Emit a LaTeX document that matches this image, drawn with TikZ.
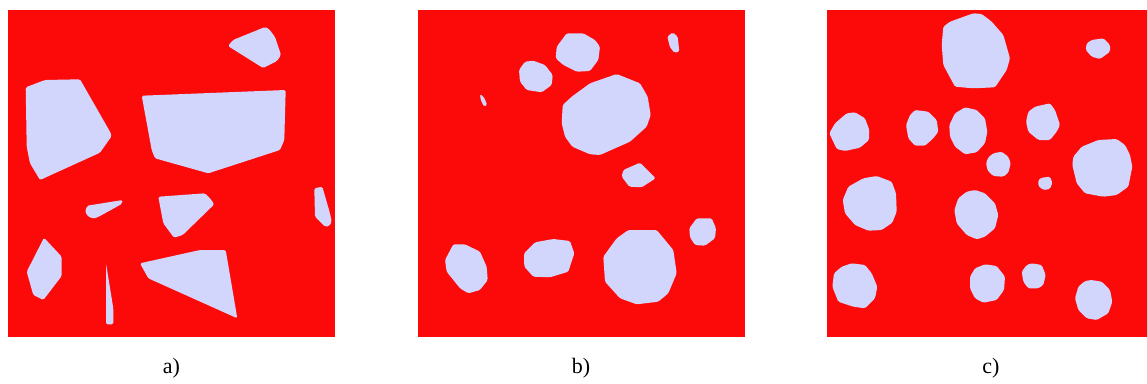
\documentclass[tikz,border=0pt]{standalone}
\usepackage{fontspec}
\setmainfont{Liberation Serif}
\definecolor{bgred}{RGB}{252,10,10}
\definecolor{grain}{RGB}{210,214,252}
\tikzset{
  panel/.style={fill=bgred, draw=none},
  inc/.style={fill=grain, draw=none, line join=round, rounded corners=1.5pt},
  caption/.style={font=\fontsize{22}{26}\selectfont, anchor=base, inner sep=0pt}
}
\begin{document}
\begin{tikzpicture}[x=1pt,y=-1pt]
\useasboundingbox (0,0) rectangle (1147,383);
% panels
\fill[panel] (8,10) rectangle (335,337);
\fill[panel] (418,10) rectangle (745,337);
\fill[panel] (827,10) rectangle (1147,337);
% ---- panel a
\fill[inc] (228,46)--(233,40)--(265,27)--(269,29)--(275,37)--(281,55)--(277,61)--(263,68)--cycle;
\fill[inc] (25.7,87.3)--(45,80)--(80,79.3)--(110,131.7)--(111.7,136)--(100,152.7)--(40,180)--(30,163.3)--(26.7,146.7)--cycle;
\fill[inc] (141.7,95.7)--(285.7,90)--(284.3,140)--(280,150)--(208.3,173.3)--(155,158.3)--(151.7,150)--cycle;
\fill[inc] (87.3,205.7)--(122.7,200)--(121.7,204)--(100,216)--(94,218.7)--(88.3,216.7)--(85,211.7)--cycle;
\fill[inc] (158.3,196.7)--(205,193.3)--(210,198.3)--(214.3,204.3)--(182.7,235)--(174,237.7)--(163.3,223.3)--cycle;
\fill[inc] (314.3,188.3)--(322.3,186.7)--(330,213.3)--(331.7,221.7)--(329.3,226)--(325,226.7)--(315,216.7)--cycle;
\fill[inc] (44,237.7)--(61.7,256.7)--(61.7,276)--(43.3,300)--(33.3,295)--(26.7,271.7)--cycle;
\fill[inc] (106,263.3)--(113.3,308.3)--(113.3,324.3)--(106,324.3)--cycle;
\fill[inc] (140,263.3)--(200,250)--(225.7,250)--(237.3,318.3)--(148.3,278.3)--cycle;
% ---- panel b
\fill[inc] (566.7,33.3)--(583.3,33.3)--(595,40)--(600,46.7)--(598.3,60)--(590,71)--(576.7,71.7)--(563.3,65)--(555.7,58.3)--(556.7,46.7)--cycle;
\fill[inc] (667.3,36.7)--(672.7,32.3)--(677.7,36.7)--(679.3,51.7)--(674.3,52.7)--(670,47.3)--cycle;
\fill[inc] (525,61.7)--(533.3,60.7)--(545,65)--(552.7,75)--(551.7,85)--(541.7,92.3)--(526.7,90)--(520,81.7)--(519,70)--cycle;
\fill[inc] (480,94)--(484,97.3)--(487.3,105)--(484,106.7)--(480.7,100)--cycle;
\fill[inc] (616.7,74)--(640,83.3)--(647.7,96.7)--(650.7,115)--(646.7,126.7)--(630,141.7)--(600,155)--(590,154.3)--(572.3,146.7)--(565,136.7)--(561.7,123.3)--(562.7,105)--(571.7,96.7)--(590,83.3)--cycle;
\fill[inc] (623.3,170)--(640,162.7)--(655.7,178.3)--(641.7,187.3)--(629.3,186.7)--(621.7,176.7)--cycle;
\fill[inc] (696.7,218.3)--(711.7,218.3)--(716,228.3)--(715,238.3)--(705,245.7)--(695,245)--(690,237.3)--(689.3,228.3)--cycle;
\fill[inc] (453.3,244.3)--(465,244.3)--(480,251.7)--(486.7,266.7)--(487.7,280)--(480,290)--(468.3,293.3)--(460,288.3)--(446.7,271.7)--(445,260)--cycle;
\fill[inc] (535,242.3)--(553.3,239)--(570,241)--(574.3,253.3)--(568.3,271.7)--(550,277.3)--(533.3,276.7)--(524.3,266.7)--(524,253.3)--cycle;
\fill[inc] (628.3,230)--(656.7,230)--(673.3,250)--(676.7,273.3)--(668.3,293.3)--(658.3,301.7)--(636.7,304.3)--(620,298.3)--(605,281.7)--(603.3,256.7)--(616.7,238.3)--cycle;
% ---- panel c
\fill[inc] (950,21.7)--(973.3,13.3)--(981.7,14)--(991.7,21.7)--(1003.3,35)--(1010,58.3)--(1006.7,70)--(995,87.3)--(973.3,88.3)--(955,86.7)--(943.3,65)--(941.7,45)--(943.3,26.7)--cycle;
\fill[inc] (1091.7,40)--(1103.3,38.3)--(1110,45)--(1110,51.7)--(1100,59)--(1091.7,56.7)--(1085.7,50)--(1086.7,43.3)--cycle;
\fill[inc] (846.7,113.3)--(855,112.3)--(865,118.3)--(869.3,130)--(869,140)--(860,147.7)--(845,151)--(836.7,149)--(829.3,133.3)--(835,123.3)--cycle;
\fill[inc] (915,110)--(928.3,111.7)--(936.7,120)--(938.3,131.7)--(933.3,138.3)--(925,145.7)--(915,145.7)--(908.3,138.3)--(906,125)--(910,115)--cycle;
\fill[inc] (965,107.3)--(976.7,110)--(985,118.3)--(987.3,131.7)--(985,143.3)--(976.7,152.3)--(965,154.3)--(955,146.7)--(950,136.7)--(949.3,125)--(955,113.3)--cycle;
\fill[inc] (1035,106.7)--(1050,103.3)--(1055,110)--(1060,125)--(1056.7,131.7)--(1050,140)--(1038.3,140)--(1028.3,131.7)--(1026,121.7)--(1028.3,111.7)--cycle;
\fill[inc] (1081.7,146.7)--(1098.3,140)--(1116.7,139)--(1125,145)--(1130,155)--(1132.3,166.7)--(1128.3,186.7)--(1116.7,195)--(1103.3,196.7)--(1085,193.3)--(1076.7,183.3)--(1072.3,165)--(1073.3,156.7)--cycle;
\fill[inc] (993.3,153.3)--(1001.7,151.7)--(1008.3,156.7)--(1010.7,163.3)--(1008.3,172.7)--(1003.3,176.7)--(993.3,176)--(987.7,170.7)--(986,163.3)--(988.3,157.3)--cycle;
\fill[inc] (1041.7,177.7)--(1050,176.7)--(1052.3,182.7)--(1050,189)--(1043.3,190)--(1038.3,186)--(1038.3,180)--cycle;
\fill[inc] (863.3,178.3)--(876.7,176)--(891.7,181.7)--(896,193.3)--(896.7,211.7)--(892.3,222.7)--(881.7,230)--(868.3,230.7)--(855,225)--(845,213.3)--(842.7,200)--(848.3,186.7)--cycle;
\fill[inc] (975,190)--(985,193.3)--(995,203.3)--(998.3,215)--(995,228.3)--(985,236.7)--(976.7,239.3)--(966.7,235)--(956.7,223.3)--(954.3,210)--(958.3,198.3)--(966.7,191.7)--cycle;
\fill[inc] (851.7,263.3)--(865,265)--(871.7,273.3)--(877.3,286.7)--(875,298.3)--(865,308.3)--(853.3,306.7)--(838.3,301.7)--(832.3,286.7)--(834,273.3)--(841.7,266.7)--cycle;
\fill[inc] (985,264.3)--(996.7,266)--(1005,276.7)--(1004,290)--(996.7,300)--(983.3,302.7)--(975,298.3)--(970,288.3)--(970,276.7)--(975,268.3)--cycle;
\fill[inc] (1031.7,263.3)--(1041.7,265)--(1045.7,275)--(1043.3,285)--(1038.3,288.3)--(1028.3,288.3)--(1023.3,281.7)--(1021.7,271.7)--(1026.7,265)--cycle;
\fill[inc] (1091.7,280)--(1101.7,281.7)--(1110,290)--(1112.3,301.7)--(1108.3,313.3)--(1096.7,320)--(1086.7,318.3)--(1078.3,310)--(1075,298.3)--(1078.3,286.7)--(1085,281)--cycle;
% captions
\node[caption] (capa) at (171.5,373) {a)};
\node[caption] (capb) at (581,373) {b)};
\node[caption] (capc) at (991,373) {c)};
\end{tikzpicture}
\end{document}
